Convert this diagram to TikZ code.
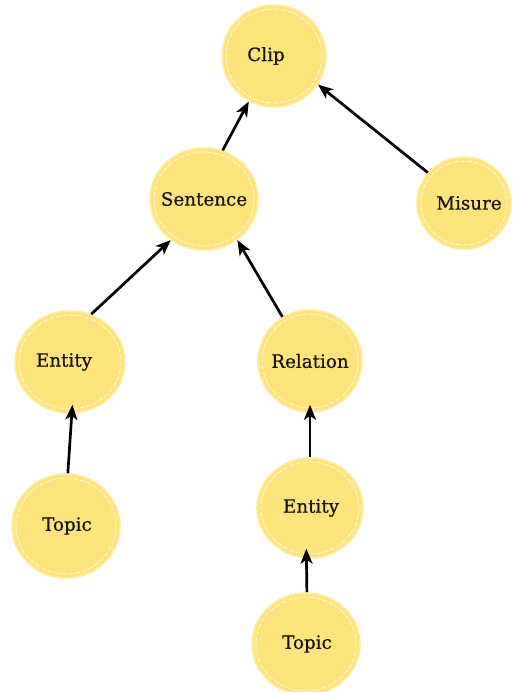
\documentclass[tikz,border=0pt]{standalone}
\usepackage{fontspec}
\setmainfont[FakeBold=0.6]{DejaVu Serif}
\usetikzlibrary{shapes.geometric,arrows.meta}
\definecolor{nodefill}{HTML}{FFE47C}
\definecolor{noderim}{HTML}{FFEBA3}
\definecolor{inkcol}{HTML}{141414}
\tikzset{
  bubble/.style={ellipse, fill=nodefill, draw=noderim, line width=1.6pt, inner sep=0pt},
  bubbletext/.style={inner sep=0pt, text=inkcol, font=\fontsize{18.3}{21}\selectfont},
  ringline/.style={draw=white, dashed, dash pattern=on 5pt off 2pt, line width=0.6pt},
  link/.style={draw=black, line width=2.7pt, -{Stealth[length=15pt,width=12pt,inset=4pt]}},
}
\newcommand{\mybubble}[7]{%
  \node[bubble, minimum width=#4*2pt, minimum height=#5*2pt] (#1) at (#2,#3) {};
  \draw[ringline] (#2,#3) ellipse [x radius=#4-4, y radius=#5-4];
  \node[bubbletext, xshift=#7pt] (#1-t) at (#1.center) {#6};
}
\begin{document}
\begin{tikzpicture}[x=1pt,y=-1pt]
\useasboundingbox (0,0) rectangle (512,692);
\mybubble{clip}{274}{56}{52}{51}{Clip}{-8}
\mybubble{sent}{204}{199}{54}{51}{Sentence}{0}
\mybubble{mis}{464}{203}{47}{46}{Misure}{5}
\mybubble{entL}{70}{362}{55}{51}{Entity}{-6}
\mybubble{rel}{310}{361}{52}{51}{Relation}{0}
\mybubble{topL}{66}{526}{54}{52}{Topic}{1}
\mybubble{entR}{310}{508}{53}{50}{Entity}{1}
\mybubble{topB}{306}{644}{54}{51}{Topic}{1}

\draw[link] (sent.69) -- (clip.241);
\draw[link] (mis.140) -- (clip.327);
\draw[link] (entL.66) -- (sent.231);
\draw[link] (rel.122) -- (sent.309);
\draw[link, shorten >=-9pt] (topL.88) -- (entL.272);
\draw[link, shorten >=-8pt] (entR.90) -- (rel.270);
\draw[link, shorten >=-10pt] (topB.89) -- (entR.266);
\end{tikzpicture}
\end{document}
